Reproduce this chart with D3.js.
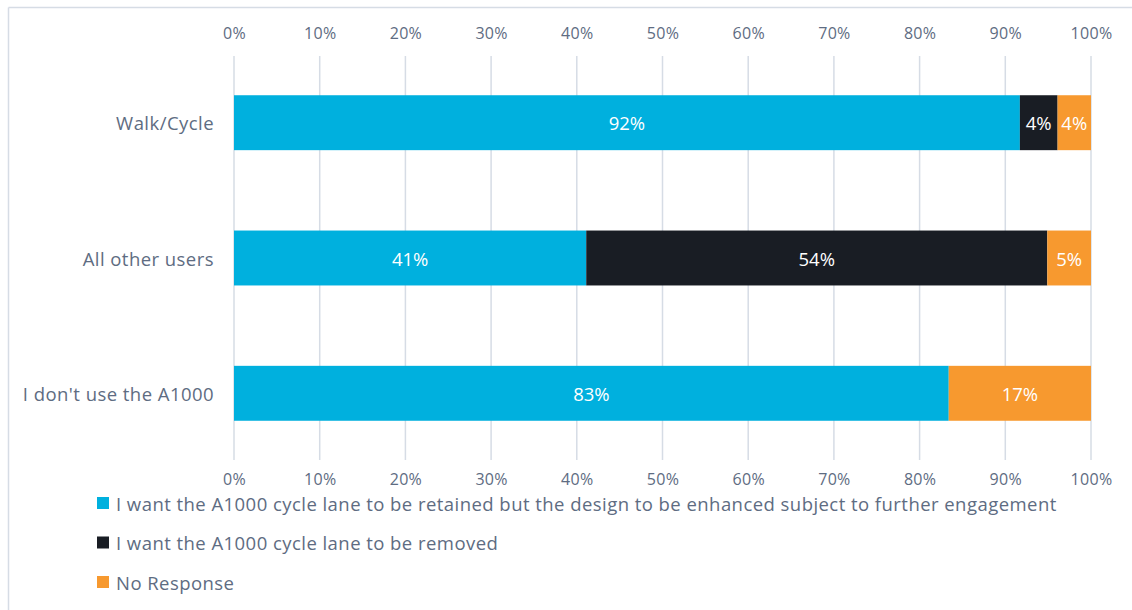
<!DOCTYPE html>
<html>
<head>
<meta charset="utf-8">
<script src="https://cdn.jsdelivr.net/npm/d3@7"></script>
<style>
  body { margin: 0; background: #fff; }
  svg { display: block; font-family: "Open Sans", Lato, sans-serif; }
</style>
</head>
<body>
<svg id="chart" width="1132" height="610"></svg>
<script>
const categories = ["Walk/Cycle", "All other users", "I don't use the A1000"];
const seriesNames = [
  "I want the A1000 cycle lane to be retained but the design to be enhanced subject to further engagement",
  "I want the A1000 cycle lane to be removed",
  "No Response"
];
const retained = [91.7, 41.1, 83.4];
const removed = [4.4, 53.8, 0];
const noResponse = [3.9, 5.1, 16.6];
const tickValues = [0, 10, 20, 30, 40, 50, 60, 70, 80, 90, 100];
const colors = ["#00B0DE", "#191D24", "#F7992F"];

const svg = d3.select("#chart");
const textColor = "#5E6C82";
const gridColor = "#D6DCE5";
const fontFam = "'Open Sans', Lato, sans-serif";

// frame
svg.append("line").attr("x1", 8.5).attr("x2", 1132).attr("y1", 7.5).attr("y2", 7.5)
  .attr("stroke", gridColor).attr("stroke-width", 1.5);
svg.append("line").attr("x1", 8.5).attr("x2", 8.5).attr("y1", 7.5).attr("y2", 610)
  .attr("stroke", gridColor).attr("stroke-width", 1.5);

const x = d3.scaleLinear().domain([0, 100]).range([234, 1091]);
const y = d3.scaleBand().domain(categories).range([56, 460]).paddingInner(0.594).paddingOuter(0.29);

// grid
svg.append("g").selectAll("line").data(tickValues).join("line")
  .attr("x1", d => x(d)).attr("x2", d => x(d))
  .attr("y1", 56).attr("y2", 460)
  .attr("stroke", gridColor).attr("stroke-width", 1.5);

const fmt = d => d + "%";
const topAxis = d3.axisTop(x).tickValues(tickValues).tickFormat(fmt).tickSize(0).tickPadding(0);
const bottomAxis = d3.axisBottom(x).tickValues(tickValues).tickFormat(fmt).tickSize(0).tickPadding(0);

const gt = svg.append("g").attr("transform", "translate(0,39)").call(topAxis);
const gb = svg.append("g").attr("transform", "translate(0,474)").call(bottomAxis);
[gt, gb].forEach(g => {
  g.select(".domain").remove();
  g.selectAll("text").attr("fill", textColor).attr("font-size", 16)
    .attr("letter-spacing", 0.3)
    .attr("font-family", fontFam);
});

// category labels
svg.append("g").selectAll("text").data(categories).join("text")
  .attr("x", 214).attr("y", d => y(d) + y.bandwidth() / 2)
  .attr("text-anchor", "end").attr("dominant-baseline", "central")
  .attr("fill", textColor).attr("font-size", 18.5).attr("letter-spacing", 0.45)
  .text(d => d);

// stacked data
const rows = categories.map((c, i) => ({ cat: c, s0: retained[i], s1: removed[i], s2: noResponse[i] }));
const stack = d3.stack().keys(["s0", "s1", "s2"]);
const series = stack(rows);

series.forEach((s, si) => {
  const g = svg.append("g");
  g.selectAll("rect").data(s).join("rect")
    .attr("x", d => x(d[0]))
    .attr("y", d => y(d.data.cat))
    .attr("width", d => x(d[1]) - x(d[0]))
    .attr("height", y.bandwidth())
    .attr("fill", colors[si]);
  g.selectAll("text").data(s.filter(d => d[1] - d[0] > 0)).join("text")
    .attr("x", d => (x(d[0]) + x(d[1])) / 2)
    .attr("y", d => y(d.data.cat) + y.bandwidth() / 2)
    .attr("text-anchor", "middle").attr("dominant-baseline", "central")
    .attr("fill", "#FFFFFF").attr("font-size", 18.5)
    .text(d => Math.round(d[1] - d[0]) + "%");
});

// legend
const legend = svg.append("g").selectAll("g").data(seriesNames).join("g")
  .attr("transform", (d, i) => `translate(97,${503 + i * 39.5})`);
legend.append("rect").attr("x", 0).attr("y", -6).attr("width", 12).attr("height", 12)
  .attr("fill", (d, i) => colors[i]);
legend.append("text").attr("x", 19).attr("y", 0).attr("dominant-baseline", "central")
  .attr("fill", textColor).attr("font-size", 18.5).attr("letter-spacing", 0.45).text(d => d);
</script>
</body>
</html>
